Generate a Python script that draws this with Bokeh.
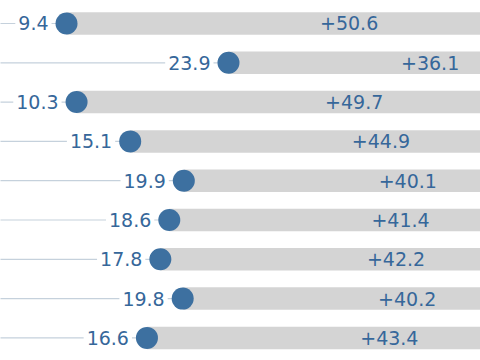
from bokeh.plotting import figure
from bokeh.models import Range1d, ColumnDataSource
from bokeh.core.properties import value
from bokeh.embed import file_html
from bokeh.resources import INLINE

values = [9.4, 23.9, 10.3, 15.1, 19.9, 18.6, 17.8, 19.8, 16.6]
total = 60.0
diffs = [round(total - v, 1) for v in values]
value_labels = [f"{v:.1f}" for v in values]
diff_labels = [f"+{d:.1f}" for d in diffs]

rows = list(range(len(values)))
x_start = 3.49
x_end = 46.46

src = ColumnDataSource(dict(
    y=rows,
    v=values,
    total=[total] * len(values),
    left=[x_start - 5] * len(values),
    mid=[(v + total) / 2 for v in values],
    vlab=value_labels,
    dlab=diff_labels,
))

p = figure(width=480, height=360, output_backend="svg", toolbar_location=None,
           x_range=Range1d(x_start, x_end), y_range=Range1d(8.575, -0.585),
           min_border=0, outline_line_color=None, background_fill_color="white")
p.axis.visible = False
p.grid.visible = False

TEXT_COLOR = "#36679a"
DOT_COLOR = "#3d70a0"
FONT = value("DejaVu Sans")

p.segment(x0="left", x1="v", y0="y", y1="y", source=src,
          line_color="#c5d1dc", line_width=1.2)
p.hbar(y="y", left="v", right="total", height=0.573, source=src,
       fill_color="#d4d4d4", line_color=None)
p.scatter(x="v", y="y", size=22, source=src, fill_color=DOT_COLOR, line_color=None)

p.text(x="v", y="y", text="vlab", source=src, x_offset=-15,
       text_align="right", text_baseline="middle",
       text_font=FONT, text_font_size="19px",
       text_color=TEXT_COLOR, background_fill_color="white", padding=3)
p.text(x="mid", y="y", text="dlab", source=src,
       text_align="center", text_baseline="middle",
       text_font=FONT, text_font_size="19px",
       text_color=TEXT_COLOR)

open("out.html", "w").write(file_html(p, INLINE))
